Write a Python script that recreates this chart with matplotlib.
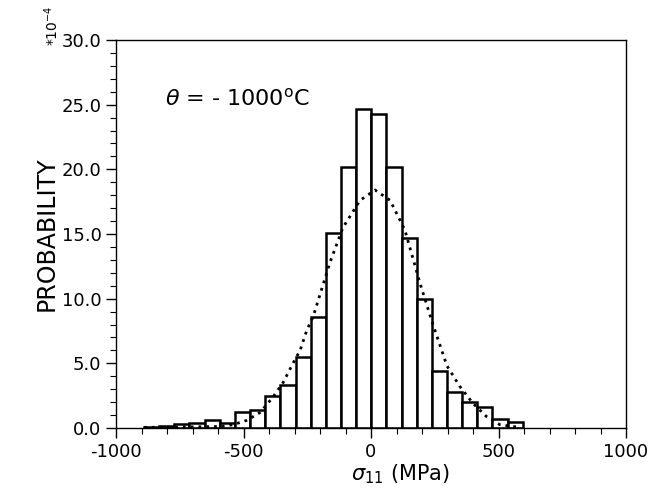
import matplotlib
matplotlib.use("Agg")
import matplotlib.pyplot as plt
import numpy as np

# ---- data ----
bin_edges = [-890, -830.6, -771.2, -711.8, -652.4, -593, -533.6, -474.2, -414.8,
             -355.4, -296, -236.6, -177.2, -117.8, -58.4, 1, 60.4, 119.8, 179.2,
             238.6, 298, 357.4, 416.8, 476.2, 535.6, 595]
bar_heights = [0.1, 0.15, 0.3, 0.4, 0.65, 0.4, 1.25, 1.4, 2.5, 3.3, 5.5, 8.6,
               15.1, 20.2, 24.7, 24.3, 20.2, 14.7, 10.0, 4.4, 2.8, 2.0, 1.6, 0.7, 0.45]

curve_x = [-890, -760, -650, -590, -541, -486, -435, -384, -345, -306, -278, -251,
           -227, -161, -110, -43, 16, 75, 133, 192, 243, 298, 349, 400, 455, 506, 584]
curve_y = [0.05, 0.07, 0.1, 0.12, 0.25, 0.6, 1.2, 2.4, 3.5, 5.0, 6.0, 7.6,
           8.6, 12.8, 15.5, 17.6, 18.4, 17.6, 15.3, 11.2, 8.0, 4.8, 3.2, 1.9, 0.85, 0.25, 0.05]

x_major = [-1000, -500, 0, 500, 1000]
x_labels = ["-1000", "-500", "0", "500", "1000"]
y_major = [0, 5, 10, 15, 20, 25, 30]
y_labels = ["0.0", "5.0", "10.0", "15.0", "20.0", "25.0", "30.0"]

plt.rcParams['font.family'] = ['DejaVu Sans']
fig = plt.figure(figsize=(6.61, 4.96), dpi=100)
ax = fig.add_axes([116/661, 1-428/496, 510/661, 388/496])

lefts = bin_edges[:-1]
widths = np.diff(bin_edges)
ax.bar(lefts, bar_heights, width=widths, align='edge', facecolor='white',
       edgecolor='black', linewidth=1.8, zorder=2)
ax.plot(curve_x, curve_y, color='black', linestyle=(0, (1, 1.8)), linewidth=2.0, zorder=3)

ax.set_xlim(-1000, 1000)
ax.set_ylim(0, 30)
ax.set_xticks(x_major)
ax.set_xticklabels(x_labels)
ax.set_yticks(y_major)
ax.set_yticklabels(y_labels)
ax.set_xticks(np.arange(-1000, 1001, 100), minor=True)
ax.set_yticks(np.arange(0, 31, 1), minor=True)
ax.tick_params(which='major', direction='out', length=7, width=1, labelsize=13,
               top=False, right=False)
ax.tick_params(which='minor', direction='out', length=4, width=0.8, top=False, right=False)
for s in ax.spines.values():
    s.set_linewidth(1.0)

ax.set_xlabel(r"$\sigma_{11}$ (MPa)", fontsize=15)
ax.xaxis.set_label_coords(0.557, -0.088)
ax.xaxis.label.set_verticalalignment('top')
ax.set_ylabel("PROBABILITY", fontsize=17)
ax.yaxis.set_label_coords(-0.112, 0.5)
ax.text(0.096, 0.85, r"$\theta$ = - 1000$^{\mathrm{o}}$C", transform=ax.transAxes,
        fontsize=16, ha='left', va='center')
fig.text(52/661, 1-46/496, r"*10$^{-4}$", rotation=90, fontsize=10,
         ha='center', va='bottom')

fig.savefig("out.png", dpi=100)
